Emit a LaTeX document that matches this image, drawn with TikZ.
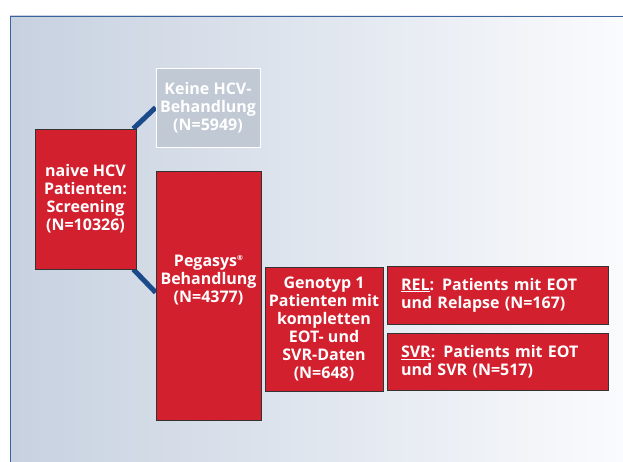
\documentclass[tikz,border=0pt]{standalone}
\usepackage{fontspec}
\setmainfont{Open Sans}
\usetikzlibrary{positioning,calc,backgrounds}

\definecolor{boxred}{HTML}{D2202F}
\definecolor{boxgray}{HTML}{C0C9D4}
\definecolor{linkblue}{HTML}{1B4A8A}
\definecolor{framblue}{HTML}{3A639B}
\definecolor{panelleft}{HTML}{C7D1E0}
\definecolor{panelright}{HTML}{FAFBFD}

\begin{document}
\begin{tikzpicture}
[x=1pt,y=-1pt,
%
redbox/.style={shape=rectangle,draw=black!80,fill=boxred,text=white,semithick,
  font=\fontsize{16}{18}\selectfont\bfseries,align=center,inner sep=0pt},
graybox/.style={redbox,draw=white,fill=boxgray,thick},
boxtext/.style={text=white,font=\fontsize{16}{18}\selectfont\bfseries,align=center,inner sep=0pt},
%
conn/.style={draw=linkblue,line width=5pt}]
%
\useasboundingbox (0,0) rectangle (623,462);
%
%% screening and first split
\node (naive) [redbox,minimum width=101,minimum height=140] at (85.5,199)
  {naive HCV\\Patienten:\\Screening\\(N=10326)};
\node (keine) [graybox,minimum width=104,minimum height=79] at (208,107.5)
  {Keine HCV-\\Behandlung\\(N=5949)};
\node (pegasys) [redbox,minimum width=105,minimum height=249] at (208.5,295.5) {};
\node (pegtext) [boxtext] at ([yshift=15.5]pegasys.center)
  {Pegasys\raisebox{6pt}{\fontsize{7}{7}\selectfont ®}\\Behandlung\\(N=4377)};
%
%% genotype 1 and outcome
\node (geno) [redbox,minimum width=118,minimum height=124] at (324,329)
  {Genotyp 1\\Patienten mit\\kompletten\\EOT- und\\SVR-Daten\\(N=648)};
\node (rel) [redbox,minimum width=221,minimum height=58,text width=193,align=left] at (497.5,295)
  {\underline{REL}: Patients mit EOT\\und Relapse (N=167)};
\node (svr) [redbox,minimum width=221,minimum height=57,text width=193,align=left] at (497.5,361.5)
  {\underline{SVR}: Patients mit EOT\\und SVR (N=517)};
%
%% panel and connectors
\begin{pgfonlayer}{background}
\shade[left color=panelleft,right color=panelright] (10,16) rectangle (623,462);
\draw[framblue,thick] (10,462) -- (10,16) -- (623,16);
\draw[conn] ([xshift=-3]naive.north east) -- (keine.west);
\draw[conn] ([xshift=-3]naive.south east) -- ([yshift=3]pegasys.west);
\end{pgfonlayer}
\end{tikzpicture}
\end{document}
